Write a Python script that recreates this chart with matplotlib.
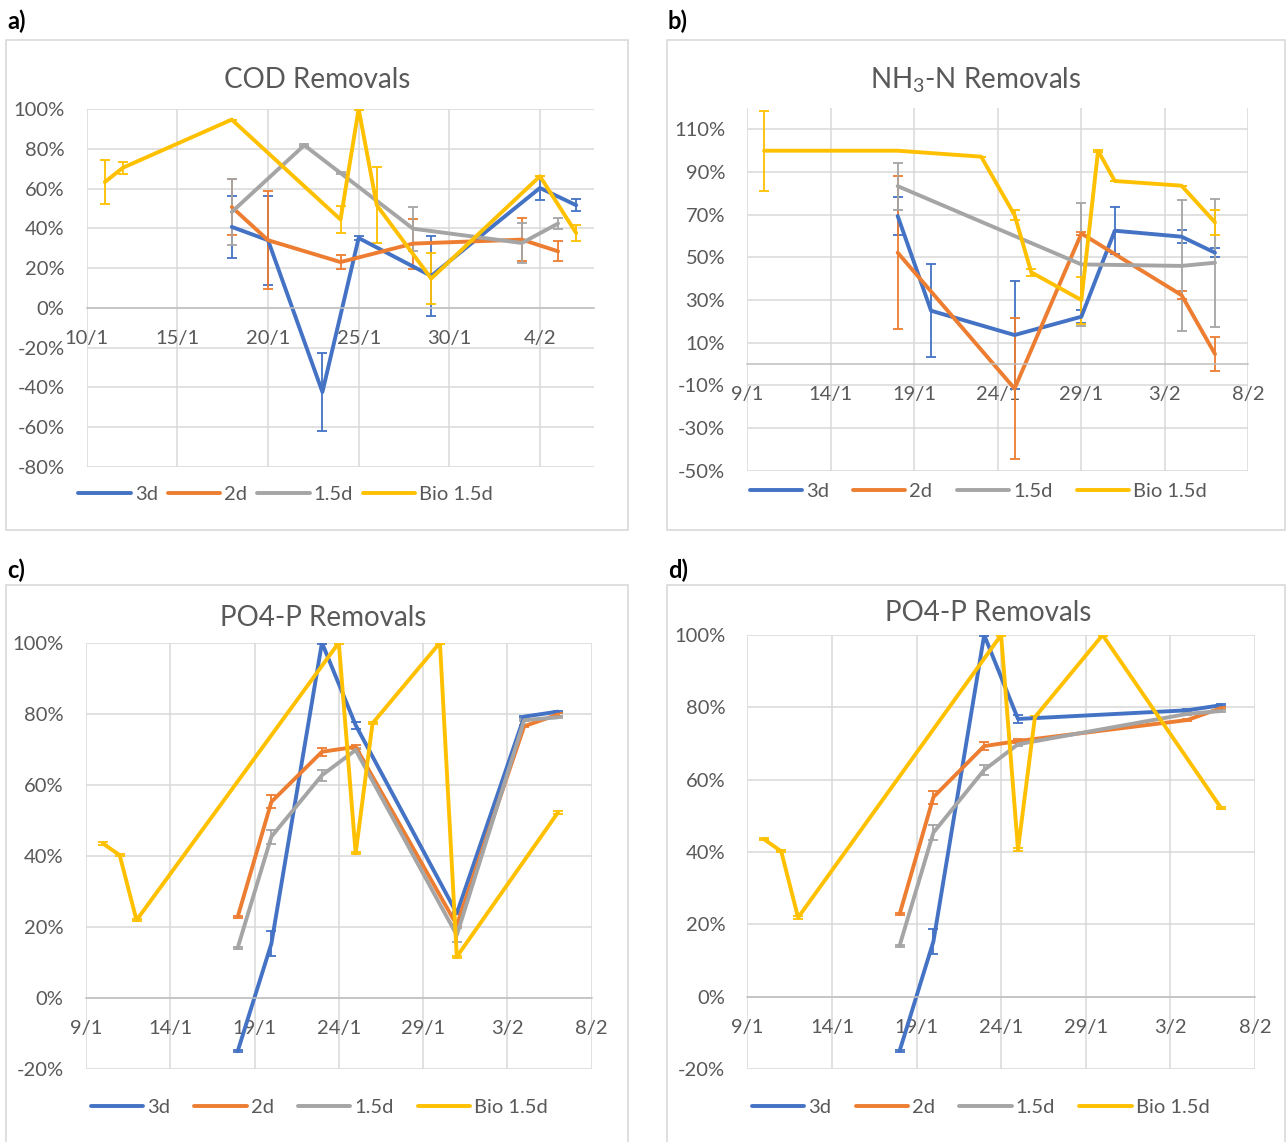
import matplotlib
matplotlib.use("Agg")
import matplotlib.pyplot as plt
import pandas as pd
from matplotlib.patches import Rectangle

plt.rcParams['font.family'] = ['Lato', 'DejaVu Sans']
plt.rcParams['mathtext.default'] = 'regular'

# --- data (values in %) ---
series_names = ["3d", "2d", "1.5d", "Bio 1.5d"]
colors = ["#4472C4", "#ED7D31", "#A5A5A5", "#FFC000"]

# a) COD
cod_3d_dates = ["18/1", "20/1", "23/1", "25/1", "29/1", "4/2", "6/2"]
cod_3d = [40.7, 34, -42.4, 35.1, 16, 60.3, 51.6]
cod_3d_err = [15.5, 22.3, 19.6, 1, 20, 6, 3]
cod_2d_dates = ["18/1", "20/1", "24/1", "28/1", "3/2", "5/2"]
cod_2d = [50.7, 34, 23, 32.3, 34.3, 28.4]
cod_2d_err = [14.3, 24.8, 3.6, 12.6, 11, 5]
cod_15d_dates = ["18/1", "22/1", "24/1", "28/1", "3/2", "5/2"]
cod_15d = [48.2, 81.8, 67.8, 39.8, 32.6, 42.4]
cod_15d_err = [16.5, 0.5, 0.5, 11, 10, 3]
cod_bio_dates = ["11/1", "12/1", "18/1", "24/1", "25/1", "26/1", "29/1", "4/2", "6/2"]
cod_bio = [63.3, 70.5, 94.7, 44.4, 100, 51.6, 14.7, 66.2, 37.6]
cod_bio_err = [11, 3, 0, 7, 0.5, 19, 13, 0, 4]

# b) NH3-N
nh3_3d_dates = ["18/1", "20/1", "25/1", "29/1", "31/1", "4/2", "6/2"]
nh3_3d = [69.4, 25, 13.6, 22.2, 62.5, 59.7, 52.2]
nh3_3d_err = [9, 21.8, 25.5, 3, 11, 3, 2]
nh3_2d_dates = ["18/1", "25/1", "29/1", "4/2", "6/2"]
nh3_2d = [52.2, -11.5, 61.2, 32.3, 4.7]
nh3_2d_err = [36, 33, 0.5, 2, 8]
nh3_15d_dates = ["18/1", "29/1", "4/2", "6/2"]
nh3_15d = [83.4, 46.7, 46, 47.5]
nh3_15d_err = [11, 29, 30.7, 30]
nh3_bio_dates = ["10/1", "18/1", "23/1", "25/1", "26/1", "29/1", "30/1", "31/1", "4/2", "6/2"]
nh3_bio = [100, 100, 97.2, 69.8, 43, 30, 100, 85.8, 83.6, 66.4]
nh3_bio_err = [18.7, 0, 0, 2.5, 1.7, 11, 0.5, 0, 0, 6]

# c) PO4-P
po4_3d_dates = ["18/1", "20/1", "23/1", "25/1", "31/1", "4/2", "6/2"]
po4_3d = [-15, 15.3, 100, 76.8, 23.8, 79.2, 80.6]
po4_3d_err = [0.3, 3.5, 0.3, 1, 0.3, 0.3, 0.3]
po4_2d_dates = ["18/1", "20/1", "23/1", "25/1", "31/1", "4/2", "6/2"]
po4_2d = [22.8, 55.2, 69.3, 70.7, 20.5, 76.5, 79.8]
po4_2d_err = [0.3, 1.8, 1.2, 0.5, 0.3, 0.3, 0.3]
po4_15d_dates = ["18/1", "20/1", "23/1", "25/1", "31/1", "4/2", "6/2"]
po4_15d = [14.1, 45.4, 62.7, 69.8, 17.7, 78.2, 79]
po4_15d_err = [0.3, 2, 1.5, 0.5, 2, 0.3, 0.3]
po4_bio_dates = ["10/1", "11/1", "12/1", "24/1", "25/1", "26/1", "30/1", "31/1", "6/2"]
po4_bio = [43.5, 40.2, 21.9, 100, 40.7, 77.3, 100, 11.6, 52.2]
po4_bio_err = [0.3] * 9

# d) PO4-P without the 31/1 sample
dropped = "31/1"

ticks_a = ["10/1", "15/1", "20/1", "25/1", "30/1", "4/2"]
ticks_bcd = ["9/1", "14/1", "19/1", "24/1", "29/1", "3/2", "8/2"]


def to_date(s):
    return pd.to_datetime([d + "/2021" for d in s], format="%d/%m/%Y")


def panel(ax, data, xlim, xticks, yticks, ylim):
    for (dates, vals, err), col in zip(data, colors):
        ax.errorbar(to_date(dates), vals, yerr=err, color=col, lw=2.8,
                    elinewidth=1.3, capsize=3.8, capthick=1.3,
                    solid_joinstyle='round', solid_capstyle='round')
    ax.set_xlim(to_date(xlim))
    ax.set_ylim(ylim)
    ax.set_xticks(to_date(xticks), xticks)
    ax.set_yticks(yticks, [f"{v}%" for v in yticks])
    ax.grid(True, color="#D9D9D9", lw=1.1)
    ax.set_axisbelow(True)
    for s in ["top", "right", "left"]:
        ax.spines[s].set_visible(False)
    ax.spines["bottom"].set_position(("data", 0))
    ax.spines["bottom"].set_color("#BFBFBF")
    ax.spines["bottom"].set_linewidth(1.1)
    ax.tick_params(axis="x", length=0, pad=16, labelsize=14.5, labelcolor="#595959")
    ax.tick_params(axis="y", length=0, pad=16, labelsize=14.5, labelcolor="#595959")
    for lab in ax.get_yticklabels():
        lab.set_horizontalalignment("right")


fig = plt.figure(figsize=(12.87, 11.42), dpi=100)

# chart borders
for x0, y0, w, h in [(0.0047, 0.5359, 0.4833, 0.4291), (0.5183, 0.5359, 0.4805, 0.4291),
                     (0.0047, -0.01, 0.4833, 0.498), (0.5183, -0.01, 0.4805, 0.498)]:
    fig.patches.append(Rectangle((x0, y0), w, h, transform=fig.transFigure,
                                 fill=False, edgecolor="#D9D9D9", lw=1.2))

ax_a = fig.add_axes([0.0674, 0.5913, 0.3944, 0.3132])
panel(ax_a, [(cod_3d_dates, cod_3d, cod_3d_err), (cod_2d_dates, cod_2d, cod_2d_err),
             (cod_15d_dates, cod_15d, cod_15d_err), (cod_bio_dates, cod_bio, cod_bio_err)],
      ["10/1", "7/2"], ticks_a, list(range(-80, 101, 20)), (-80, 100))

ax_b = fig.add_axes([0.5807, 0.5878, 0.3893, 0.3176])
panel(ax_b, [(nh3_3d_dates, nh3_3d, nh3_3d_err), (nh3_2d_dates, nh3_2d, nh3_2d_err),
             (nh3_15d_dates, nh3_15d, nh3_15d_err), (nh3_bio_dates, nh3_bio, nh3_bio_err)],
      ["9/1", "8/2"], ticks_bcd, list(range(-50, 111, 20)), (-50, 120))

po4 = [(po4_3d_dates, po4_3d, po4_3d_err), (po4_2d_dates, po4_2d, po4_2d_err),
       (po4_15d_dates, po4_15d, po4_15d_err), (po4_bio_dates, po4_bio, po4_bio_err)]
ax_c = fig.add_axes([0.0668, 0.0639, 0.3929, 0.3733])
panel(ax_c, po4, ["9/1", "8/2"], ticks_bcd, list(range(-20, 101, 20)), (-20, 100))

po4_d = []
for dates, vals, err in po4:
    keep = [i for i, d in enumerate(dates) if d != dropped]
    po4_d.append(([dates[i] for i in keep], [vals[i] for i in keep], [err[i] for i in keep]))
ax_d = fig.add_axes([0.5807, 0.0639, 0.3943, 0.38])
panel(ax_d, po4_d, ["9/1", "8/2"], ticks_bcd, list(range(-20, 101, 20)), (-20, 100))

# titles and panel letters
for x, y, t in [(0.2464, 0.930, "COD Removals"), (0.7585, 0.930, "NH$_3$-N Removals"),
                (0.251, 0.459, "PO4-P Removals"), (0.768, 0.463, "PO4-P Removals")]:
    fig.text(x, y, t, ha="center", va="center", fontsize=20, color="#595959")
for x, y, t in [(0.006, 0.981, "a)"), (0.519, 0.981, "b)"), (0.006, 0.501, "c)"), (0.519, 0.501, "d)")]:
    fig.text(x, y, t, ha="left", va="center", fontsize=17, fontweight="bold")

# legends
for ax, cx, cy, sp in [(ax_a, 0.222, 0.5674, 0.5), (ax_b, 0.760, 0.570, 1.2),
                       (ax_c, 0.248, 0.0306, 1.2), (ax_d, 0.762, 0.0306, 1.2)]:
    handles = [plt.Line2D([], [], color=c, lw=2.8, solid_capstyle="round") for c in colors]
    leg = fig.legend(handles, series_names, loc="center", bbox_to_anchor=(cx, cy),
                     ncol=4, frameon=False, fontsize=14.5, handlelength=2.6,
                     handletextpad=0.2, columnspacing=sp, borderaxespad=0)
    for t in leg.get_texts():
        t.set_color("#595959")

plt.savefig("out.png")
